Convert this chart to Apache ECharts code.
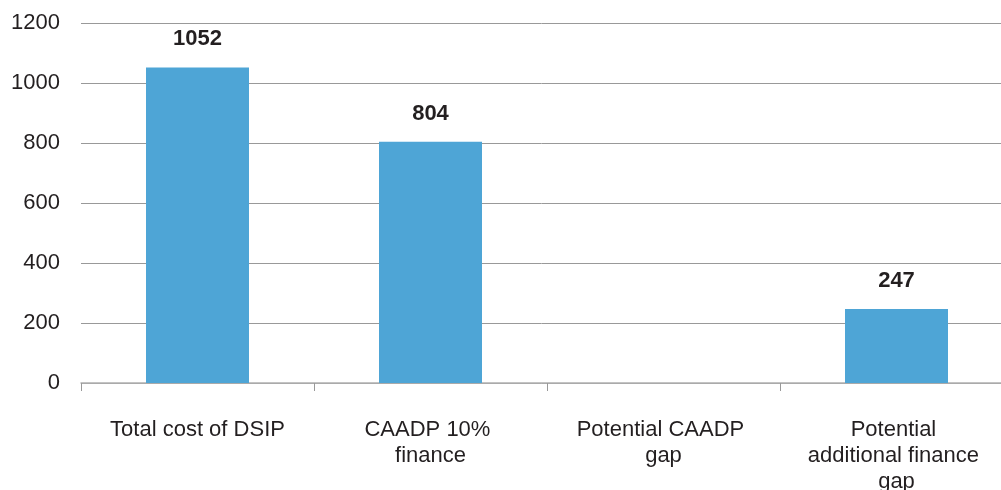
<!DOCTYPE html>
<html>
<head>
<meta charset="utf-8">
<script src="https://cdn.jsdelivr.net/npm/echarts@6/dist/echarts.min.js"></script>
<style>
  html, body { margin: 0; padding: 0; background: #fff; }
  #chart { width: 1001px; height: 490px; }
</style>
</head>
<body>
<div id="chart"></div>
<script>
const categories = [
  "Total cost of DSIP",
  "CAADP 10% finance",
  "Potential CAADP gap",
  "Potential additional finance gap"
];
const values = [1052, 804, null, 247];
const yTicks = { min: 0, max: 1200, interval: 200 };

const chart = echarts.init(document.getElementById("chart"));
const font = "'Liberation Sans', Arial, Helvetica, sans-serif";

chart.setOption({
  animation: false,
  // plot runs past the right edge, last category label is cut off
  grid: { left: 81, right: -12, top: 23, bottom: 107, outerBoundsMode: "none" },
  xAxis: {
    type: "category",
    data: categories,
    axisLine: { lineStyle: { color: "#b0b0b0", width: 1.5 } },
    axisTick: { show: true, length: 8, lineStyle: { color: "#999" } },
    axisLabel: {
      interval: 0,
      margin: 34,
      width: 183,
      overflow: "break",
      lineHeight: 26,
      fontSize: 22,
      fontFamily: font,
      color: "#231f20"
    }
  },
  yAxis: {
    type: "value",
    min: yTicks.min,
    max: yTicks.max,
    interval: yTicks.interval,
    axisLine: { show: false },
    axisTick: { show: false },
    splitLine: { lineStyle: { color: "#999", width: 1 } },
    axisLabel: {
      margin: 21,
      fontSize: 22,
      fontFamily: font,
      color: "#231f20",
      formatter: (v) => String(v)
    }
  },
  series: [{
    type: "bar",
    data: values,
    barWidth: 103,
    itemStyle: { color: "#4ea5d6" },
    label: {
      show: true,
      position: "top",
      distance: 17,
      fontSize: 22,
      fontWeight: "bold",
      fontFamily: font,
      color: "#231f20"
    }
  }]
});
</script>
</body>
</html>
